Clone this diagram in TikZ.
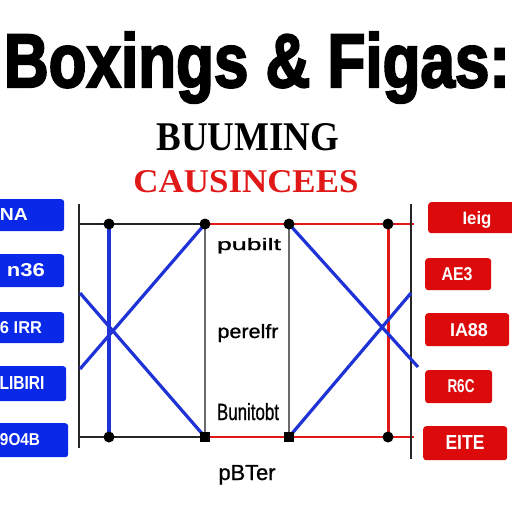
\documentclass[tikz,border=0pt]{standalone}
\usepackage{fontspec}
\setmainfont{Liberation Serif}
\setsansfont{Liberation Sans}
\newfontfamily\titlefont{Liberation Sans}[BoldFeatures={FakeBold=3}]
\newfontfamily\midfont{Liberation Sans}[UprightFeatures={FakeBold=1}]
\usepackage{graphicx}
\usepackage{tikz}
\usetikzlibrary{positioning}

\definecolor{boxblue}{HTML}{0A28E8}
\definecolor{boxred}{HTML}{DC0A0A}
\definecolor{lineblue}{HTML}{1E32D6}
\definecolor{linered}{HTML}{E01818}
\definecolor{framegray}{HTML}{6A6A6A}

\begin{document}
\begin{tikzpicture}[x=1pt, y=-1pt,
  lbox/.style={fill=boxblue, rounded corners=3pt, inner sep=0pt, anchor=north west},
  rbox/.style={fill=boxred, rounded corners=3pt, inner sep=0pt, anchor=north west},
  boxtxt/.style={text=white, font=\sffamily\bfseries, inner sep=0pt, anchor=base},
  midtxt/.style={font=\midfont, inner sep=0pt, anchor=base},
  dot/.style={circle, fill=black, inner sep=0pt, minimum size=11pt},
  sqdot/.style={rectangle, fill=black, inner sep=0pt, minimum size=10pt},
  frame/.style={draw=black!85, line width=2pt},
  thin/.style={draw=framegray, line width=1.2pt},
  redln/.style={draw=linered, line width=2.4pt},
  blueln/.style={draw=lineblue, line width=3.2pt}
]
\useasboundingbox[fill=white] (0,0) rectangle (512,512);

% headings
\node[inner sep=0pt, anchor=base] (title) at (257,87)
  {\resizebox{506pt}{55pt}{\titlefont\bfseries Boxings \& Figas:}};
\node[inner sep=0pt, anchor=base] (sub) at (248,150)
  {\resizebox{183pt}{27pt}{\bfseries BUUMING}};
\node[inner sep=0pt, anchor=base, text=linered] (sub2) at (246,192)
  {\resizebox{225pt}{22pt}{\bfseries CAUSINCEES}};

% left boxes
\node[lbox, minimum width=72pt, minimum height=32pt] (lb1) at (-8,199) {};
\node[lbox, minimum width=72pt, minimum height=33pt] (lb2) at (-8,254) {};
\node[lbox, minimum width=72pt, minimum height=31pt] (lb3) at (-8,312) {};
\node[lbox, minimum width=74pt, minimum height=35pt] (lb4) at (-8,366) {};
\node[lbox, minimum width=76pt, minimum height=34pt] (lb5) at (-8,423) {};
\node[boxtxt] (lt1) at (14,220) {\resizebox{28pt}{12pt}{NA}};
\node[boxtxt] (lt2) at (26,276) {\resizebox{38pt}{13pt}{n36}};
\node[boxtxt] (lt3) at (21,333) {\resizebox{42pt}{12pt}{6 IRR}};
\node[boxtxt] (lt4) at (22,389) {\resizebox{45pt}{13pt}{LIBIRI}};
\node[boxtxt] (lt5) at (20,445) {\resizebox{40pt}{12pt}{9O4B}};

% right boxes
\node[rbox, minimum width=92pt, minimum height=31pt] (rb1) at (428,202) {};
\node[rbox, minimum width=66pt, minimum height=32pt] (rb2) at (425,258) {};
\node[rbox, minimum width=84pt, minimum height=33pt] (rb3) at (425,313) {};
\node[rbox, minimum width=67pt, minimum height=33pt] (rb4) at (425,370) {};
\node[rbox, minimum width=84pt, minimum height=34pt] (rb5) at (423,426) {};
\node[boxtxt] (rt1) at (477,224) {\resizebox{29pt}{13pt}{Ieig}};
\node[boxtxt] (rt2) at (457,280) {\resizebox{31pt}{13pt}{AE3}};
\node[boxtxt] (rt3) at (469,336) {\resizebox{38pt}{13pt}{IA88}};
\node[boxtxt] (rt4) at (461,392) {\resizebox{27pt}{13pt}{R6C}};
\node[boxtxt] (rt5) at (465,449) {\resizebox{39pt}{14pt}{EITE}};

% frame points
\coordinate (ltop) at (79,204);
\coordinate (lbot) at (79,448);
\coordinate (lA) at (79,224);
\coordinate (lB) at (79,437);
\coordinate (p1) at (109,224);
\coordinate (p2) at (205,224);
\coordinate (p3) at (109,437);
\coordinate (p4) at (205,437);
\coordinate (p5) at (289,224);
\coordinate (p6) at (289,437);
\coordinate (p7) at (388,224);
\coordinate (p8) at (388,437);
\coordinate (rA) at (414,224);
\coordinate (rB) at (414,437);
\coordinate (rtop) at (411,204);
\coordinate (rbot) at (411,459);
\coordinate (lx1) at (80,369);
\coordinate (lx2) at (80,293);
\coordinate (rx1) at (418,367);
\coordinate (rx2) at (411,293);

% lines
\draw[frame] (ltop) -- (lbot);
\draw[frame] (lA) -- (p2);
\draw[frame] (lB) -- (p4);
\draw[thin] (p2) -- (p4);
\draw[thin] (p5) -- (p6);
\draw[draw=linered, line width=1.3pt] (p2) -- (p5);
\draw[draw=linered, line width=1.3pt] (p4) -- (p6);
\draw[redln] (p5) -- (rA);
\draw[redln] (p6) -- (rB);
\draw[redln, line width=3pt] (p7) -- (p8);
\draw[draw=black!85, line width=1.6pt] (rtop) -- (rbot);
\draw[blueln] (p1) -- (p3);
\draw[blueln] (p2) -- (lx1);
\draw[blueln] (lx2) -- (p4);
\draw[blueln] (p5) -- (rx1);
\draw[blueln] (p6) -- (rx2);

% dots
\node[dot] (d1) at (p1) {};
\node[dot] (d2) at (p2) {};
\node[dot] (d3) at (p3) {};
\node[sqdot] (d4) at (p4) {};
\node[dot] (d5) at (p5) {};
\node[sqdot] (d6) at (p6) {};
\node[dot] (d7) at (p7) {};
\node[dot] (d8) at (p8) {};

% middle texts
\node[midtxt] (m1) at (249,250) {\resizebox{64pt}{12pt}{pubilt}};
\node[midtxt] (m2) at (248,338) {\resizebox{61pt}{14pt}{perelfr}};
\node[midtxt] (m3) at (248,420) {\resizebox{62pt}{17pt}{Bunitobt}};
\node[midtxt] (m4) at (247,480) {\resizebox{57pt}{15pt}{pBTer}};
\end{tikzpicture}
\end{document}
